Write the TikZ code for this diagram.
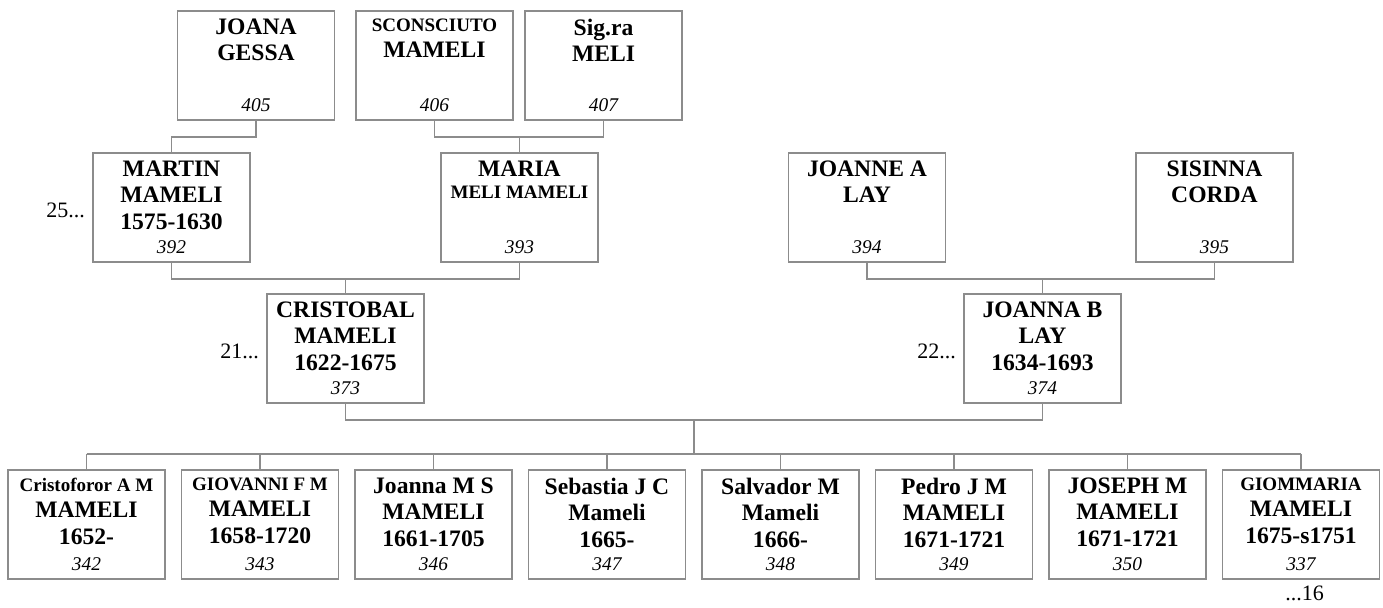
\documentclass[tikz,border=0pt]{standalone}
\usepackage{fontspec}
\setmainfont{Liberation Serif}
\usepackage{tikz}
\usetikzlibrary{positioning}
\definecolor{linegray}{RGB}{140,140,140}
\newcommand{\smallname}{\fontsize{9.5}{13.25}\selectfont}

\begin{document}
\begin{tikzpicture}[x=0.5pt, y=-0.5pt,
    person/.style={draw=linegray, line width=0.75pt, minimum width=78.5pt, minimum height=54.5pt, inner sep=0pt},
    names/.style={anchor=north, inner sep=0pt, align=center, font=\fontsize{11.8}{13.25}\selectfont\bfseries},
    num/.style={anchor=base, inner sep=0pt, font=\fontsize{9.7}{11}\selectfont\itshape},
    side/.style={inner sep=0pt, font=\fontsize{11}{13}\selectfont},
    link/.style={draw=linegray, line width=0.75pt}]
    \useasboundingbox (0,0) rectangle (1383,607);
    % ancestors
    \foreach \id/\x/\y/\who/\n in {
        405/256/65.5/{JOANA\\GESSA},
        406/434.5/65.5/{{\smallname SCONSCIUTO}\\MAMELI},
        407/603.5/65.5/{Sig.ra\\MELI},
        392/171.5/207.5/{MARTIN\\MAMELI\\1575-1630},
        393/519.5/207.5/{MARIA\\[-2.2pt]{\smallname MELI MAMELI}},
        394/867/207.5/{JOANNE A\\LAY},
        395/1214.5/207.5/{SISINNA\\CORDA},
        373/345.5/348.5/{CRISTOBAL\\MAMELI\\1622-1675},
        374/1042.5/348.5/{JOANNA B\\LAY\\1634-1693}} {
        \node[person] (p\id) at (\x,\y) {};
        \node[names] (t\id) at ([yshift=-4pt]p\id.north) {\who};
        \node[num] (n\id) at ([yshift=4.5pt]p\id.south) {\id};
    }
    % children
    \foreach \i/\who/\n in {
        1/{{\smallname Cristoforor A M}\\MAMELI\\1652-}/342,
        2/{{\smallname GIOVANNI F M}\\MAMELI\\1658-1720}/343,
        3/{Joanna M S\\MAMELI\\1661-1705}/346,
        4/{Sebastia J C\\Mameli\\1665-}/347,
        5/{Salvador M\\Mameli\\1666-}/348,
        6/{Pedro J M\\MAMELI\\1671-1721}/349,
        7/{JOSEPH M\\MAMELI\\1671-1721}/350,
        8/{{\smallname GIOMMARIA}\\MAMELI\\1675-s1751}/337} {
        \node[person] (c\i) at ({86.5+173.5*(\i-1)}, 524.5) {};
        \node[names] (ct\i) at ([yshift=-4pt]c\i.north) {\who};
        \node[num] (cn\i) at ([yshift=4.5pt]c\i.south) {\n};
    }
    % side marks
    \node[side, anchor=base east] (s25) at ([xshift=-3.5pt, yshift=-4.75pt]p392.west) {25...};
    \node[side, anchor=base east] (s21) at ([xshift=-3.5pt, yshift=-4.75pt]p373.west) {21...};
    \node[side, anchor=base east] (s22) at ([xshift=-3.5pt, yshift=-4.75pt]p374.west) {22...};
    \node[side, anchor=base west] (s16) at ([xshift=-8pt, yshift=-10.5pt]c8.south) {...16};
    % links
    \draw[link] (p405.south) -- ++(0,16) -| (p392.north);
    \draw[link] (p406.south) -- ++(0,16) coordinate (m393) -| (p407.south);
    \draw[link] (m393 -| p393.north) -- (p393.north);
    \draw[link] (p392.south) -- ++(0,16) coordinate (m373) -| (p393.south);
    \draw[link] (m373 -| p373.north) -- (p373.north);
    \draw[link] (p394.south) -- ++(0,16) coordinate (m374) -| (p395.south);
    \draw[link] (m374 -| p374.north) -- (p374.north);
    \draw[link] (p373.south) -- ++(0,16) coordinate (m1) -- (m1 -| p374.south) coordinate[midway] (fam) -- (p374.south);
    \draw[link] (fam) -- ++(0,34) coordinate (bar);
    \draw[link] (bar -| c1.north) -- (bar -| c8.north);
    \foreach \i in {1,...,8}
        \draw[link] (bar -| c\i.north) -- (c\i.north);
\end{tikzpicture}
\end{document}
